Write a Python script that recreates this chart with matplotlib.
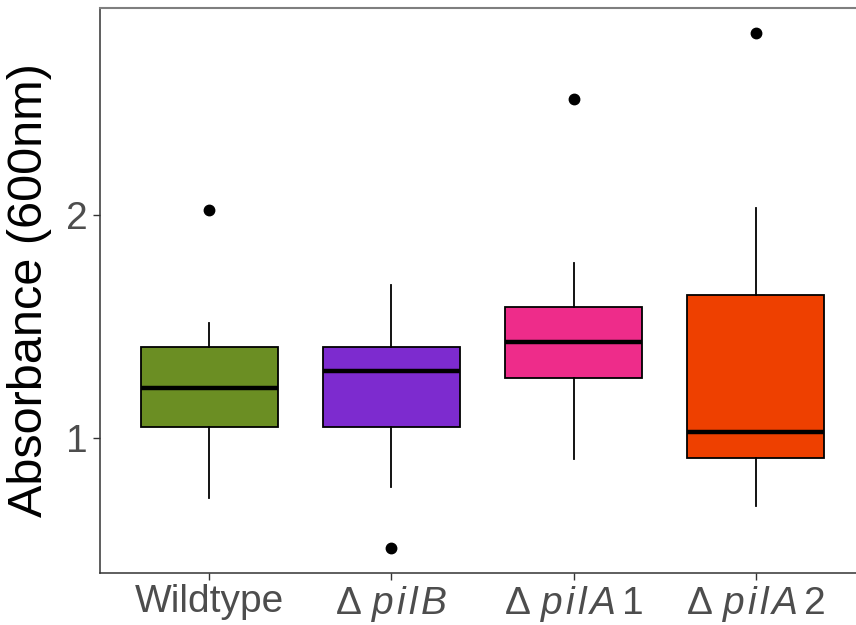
import matplotlib
matplotlib.use("Agg")
import matplotlib.pyplot as plt

plt.rcParams["font.family"] = ["Liberation Sans", "DejaVu Sans"]
plt.rcParams["mathtext.fontset"] = "custom"
plt.rcParams["mathtext.rm"] = "Liberation Sans"
plt.rcParams["mathtext.it"] = "Liberation Sans:italic"

# per-strain box statistics (absorbance at 600 nm)
strains = [
    "Wildtype",
    r"$\Delta\ p\hspace{0.1}i\hspace{0.1}l\hspace{0.1}B$",
    r"$\Delta\ p\hspace{0.1}i\hspace{0.1}l\hspace{0.1}A\hspace{0.2}1$",
    r"$\Delta\ p\hspace{0.1}i\hspace{0.1}l\hspace{0.1}A\hspace{0.2}2$",
]
q1 = [1.049, 1.049, 1.269, 0.913]
median = [1.226, 1.303, 1.430, 1.030]
q3 = [1.411, 1.408, 1.590, 1.644]
whisker_low = [0.731, 0.783, 0.906, 0.696]
whisker_high = [1.518, 1.686, 1.787, 2.034]
outliers = [[2.024], [0.507], [2.522], [2.816]]
colors = ["#6B8E23", "#7D2BCF", "#EE2C8A", "#EE4000"]

stats = []
for i, name in enumerate(strains):
    stats.append({
        "label": name,
        "q1": q1[i], "med": median[i], "q3": q3[i],
        "whislo": whisker_low[i], "whishi": whisker_high[i],
        "fliers": outliers[i],
    })

fig = plt.figure(figsize=(8.56, 6.25), dpi=100)
ax = fig.add_axes([0.1168, 0.0832, 0.8937, 0.9048])

bp = ax.bxp(
    stats, positions=[1, 2, 3, 4], widths=0.75, patch_artist=True,
    showcaps=False,
    boxprops=dict(edgecolor="black", linewidth=1.3),
    medianprops=dict(color="black", linewidth=3.2, solid_capstyle="butt"),
    whiskerprops=dict(color="black", linewidth=1.3),
    flierprops=dict(marker="o", markerfacecolor="black", markeredgecolor="black",
                    markersize=7.5),
)
for patch, c in zip(bp["boxes"], colors):
    patch.set_facecolor(c)

ax.set_xlim(0.4, 4.6)
ax.set_ylim(0.396, 2.932)
ax.set_yticks([1, 2])
ax.set_yticklabels(["1", "2"])
ax.set_ylabel("Absorbance (600nm)", fontsize=35, color="black", labelpad=10)

ax.tick_params(axis="both", labelsize=28, labelcolor="#4D4D4D", color="#333333",
               length=5, width=1, pad=4)
ax.tick_params(axis="x", pad=3)

for side in ["left", "bottom"]:
    ax.spines[side].set_color("#333333")
    ax.spines[side].set_linewidth(1.1)
ax.spines["top"].set_color("#7F7F7F")
ax.spines["top"].set_linewidth(1.5)
ax.spines["right"].set_visible(False)

fig.savefig("out.png", dpi=100)
